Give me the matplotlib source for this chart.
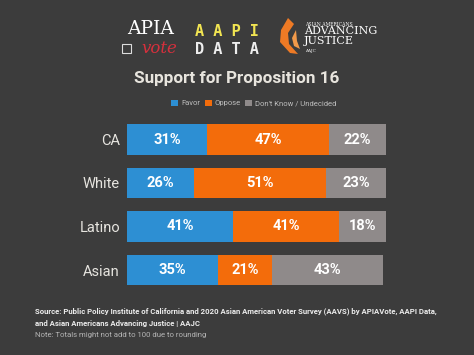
import matplotlib
matplotlib.use("Agg")
import matplotlib.pyplot as plt
from matplotlib.patches import Polygon, Rectangle
import numpy as np

categories = ["CA", "White", "Latino", "Asian"]
favor = [31, 26, 41, 35]
oppose = [47, 51, 41, 21]
undecided = [22, 23, 18, 43]
series_names = ["Favor", "Oppose", "Don't Know / Undecided"]
colors = ["#2d8fd3", "#f36c0b", "#8f8a8a"]

BG = "#3c3c3c"
FONT = "Roboto"
W, H = 474, 355
fig = plt.figure(figsize=(W / 100, H / 100), dpi=100, facecolor=BG)

def fx(x):
    return x / W

def fy(y):
    return 1 - y / H

# Bars axes
ax = fig.add_axes([fx(127), fy(291.75), fx(259), 174 / H])
ax.set_facecolor(BG)
ypos = np.arange(len(categories))
left = np.zeros(len(categories))
for vals, col, name in zip([favor, oppose, undecided], colors, series_names):
    bars = ax.barh(ypos, vals, left=left, height=0.71, color=col, label=name)
    for b, v in zip(bars, vals):
        ax.text(b.get_x() + b.get_width() / 2, b.get_y() + b.get_height() / 2,
                f"{v}%", ha="center", va="center", color="white",
                fontsize=10.5, fontweight="bold", family=FONT)
    left += np.array(vals)
ax.set_xlim(0, 100)
ax.set_ylim(3.5, -0.5)
ax.set_yticks(ypos)
ax.set_yticklabels(categories, fontsize=10.5, color="#e6e4df", family=FONT)
ax.tick_params(axis="y", length=0, pad=5)
ax.set_xticks([])
for s in ax.spines.values():
    s.set_visible(False)

# Title
fig.text(0.5, fy(78), "Support for Proposition 16", ha="center", va="center",
         fontsize=12.3, fontweight="bold", color="#e8e5de", family=FONT)

# Legend
handles, labels = ax.get_legend_handles_labels()
leg = fig.legend(handles, labels, loc="center", bbox_to_anchor=(fx(254), fy(103)),
                 ncol=3, frameon=False, handlelength=0.9, handleheight=0.9,
                 handletextpad=0.4, columnspacing=0.6, prop={"family": FONT, "size": 5.5})
for t in leg.get_texts():
    t.set_color("#bdbdbd")

# Logos (approximations)
fig.text(fx(151), fy(29.5), "APIA", ha="center", va="center", fontsize=13.5,
         color="white", family="DejaVu Serif")
fig.text(fx(159), fy(48.5), "vote", ha="center", va="center", fontsize=12,
         color="#d6303c", family="DejaVu Serif", style="italic")
fig.add_artist(Rectangle((fx(122), fy(53)), fx(9), 9 / H, fill=False,
                         edgecolor="#dddddd", lw=0.8, transform=fig.transFigure))
fig.text(fx(227), fy(31), "A A P I", ha="center", va="center", fontsize=11,
         color="#f2e552", family="DejaVu Sans Mono", fontweight="bold")
fig.text(fx(227), fy(49), "D A T A", ha="center", va="center", fontsize=11,
         color="#eeeeee", family="DejaVu Sans Mono", fontweight="bold")
flame = Polygon([[fx(288), fy(18)], [fx(281), fy(30)], [fx(280), fy(42)],
                 [fx(290), fy(53)], [fx(298), fy(54)], [fx(289), fy(44)],
                 [fx(288), fy(33)], [fx(294), fy(24)]],
                closed=True, facecolor="#ee7a25", edgecolor="none",
                transform=fig.transFigure)
fig.add_artist(flame)
flame2 = Polygon([[fx(296), fy(30)], [fx(292), fy(38)], [fx(294), fy(46)],
                  [fx(300), fy(49)], [fx(297), fy(41)]],
                 closed=True, facecolor="#f29a4a", edgecolor="none",
                 transform=fig.transFigure)
fig.add_artist(flame2)
fig.text(fx(305), fy(24), "ASIAN AMERICANS", ha="left", va="center", fontsize=3.3,
         color="white", family="DejaVu Serif")
fig.text(fx(304), fy(31.5), "ADVANCING", ha="left", va="center", fontsize=8,
         color="white", family="DejaVu Serif")
fig.text(fx(304), fy(40.5), "JUSTICE", ha="left", va="center", fontsize=8,
         color="white", family="DejaVu Serif")
fig.text(fx(305), fy(51), "AAJC", ha="left", va="center", fontsize=3,
         color="white", family="DejaVu Serif")

# Source & note
fig.text(fx(35), fy(311.5), "Source: Public Policy Institute of California and 2020 Asian American Voter Survey (AAVS) by APIAVote, AAPI Data,",
         ha="left", va="center", fontsize=5.6, fontweight="bold", color="#ececec", family=FONT)
fig.text(fx(35), fy(323.5), "and Asian Americans Advancing Justice | AAJC",
         ha="left", va="center", fontsize=5.6, fontweight="bold", color="#ececec", family=FONT)
fig.text(fx(35), fy(334.5), "Note: Totals might not add to 100 due to rounding",
         ha="left", va="center", fontsize=5.6, color="#b5b5b5", family=FONT)

fig.savefig("out.png", dpi=100, facecolor=BG)
